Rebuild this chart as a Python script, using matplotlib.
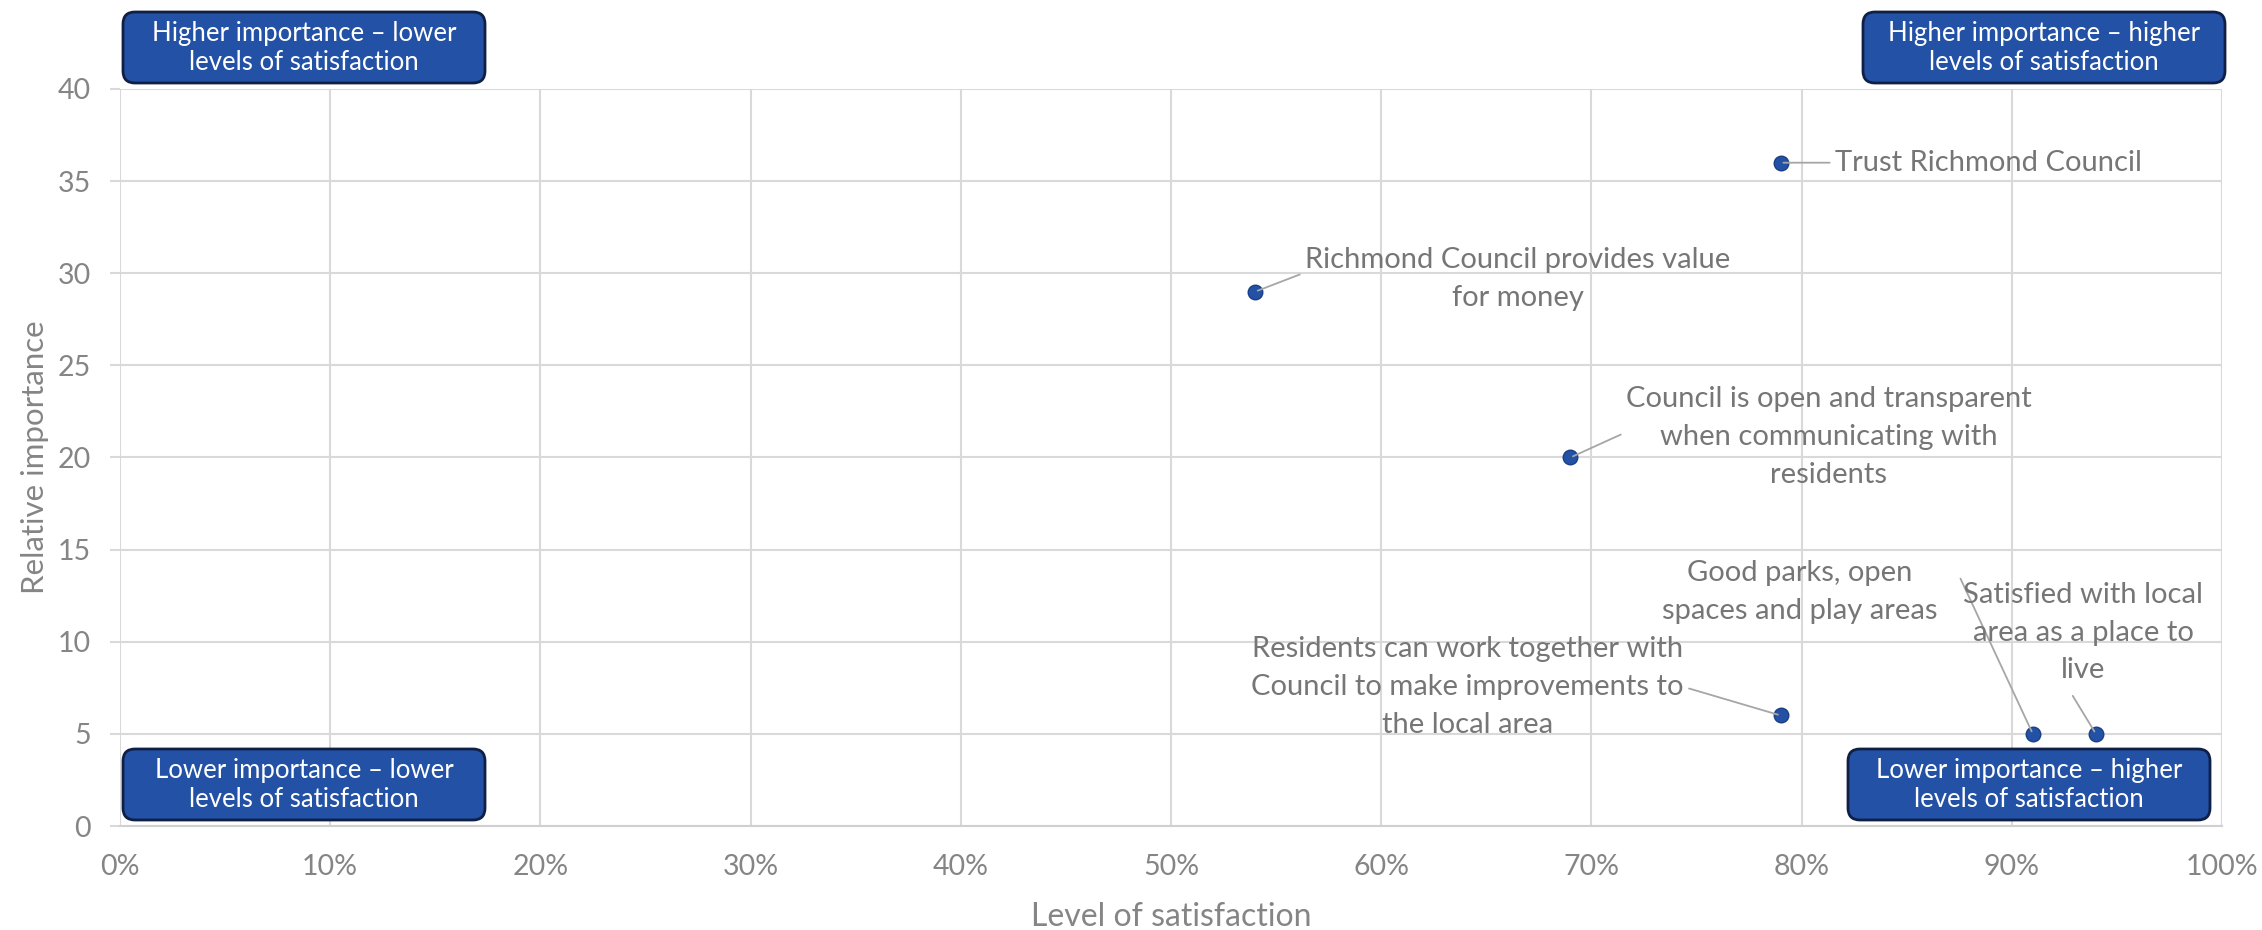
import matplotlib
matplotlib.use("Agg")
import matplotlib.pyplot as plt
from matplotlib.patches import FancyBboxPatch
from matplotlib.transforms import IdentityTransform
from matplotlib.ticker import FuncFormatter

# data
labels = [
    "Trust Richmond Council",
    "Richmond Council provides value\nfor money",
    "Council is open and transparent\nwhen communicating with\nresidents",
    "Residents can work together with\nCouncil to make improvements to\nthe local area",
    "Good parks, open\nspaces and play areas",
    "Satisfied with local\narea as a place to\nlive",
]
satisfaction = [0.79, 0.54, 0.69, 0.79, 0.91, 0.94]
importance = [36, 29, 20, 6, 5, 5]

# label placement (data coords) and leader anchor on the text box
label_xy = [(0.816, 36.0), (0.665, 29.7), (0.813, 21.1),
            (0.641, 7.55), (0.799, 12.7), (0.934, 10.5)]
label_ha = ["left", "center", "center", "center", "center", "center"]
relpos = [(0, 0.5), (0.0, 0.6), (0.0, 0.55), (1.0, 0.5), (1.08, 0.75), (0.45, -0.1)]

quadrants = [
    ("Higher importance \u2013 lower\nlevels of satisfaction", (123, 847)),
    ("Higher importance \u2013 higher\nlevels of satisfaction", (1863, 847)),
    ("Lower importance \u2013 lower\nlevels of satisfaction", (123, 110)),
    ("Lower importance \u2013 higher\nlevels of satisfaction", (1848, 110)),
]

plt.rcParams['font.family'] = ['Lato', 'DejaVu Sans']
GRID = "#d9d9d9"
TXT = "#858585"
LBL = "#767676"
BLUE = "#2251A5"

fig = plt.figure(figsize=(22.62, 9.30), dpi=100)
ax = fig.add_axes([120/2262, 1-826/930, (2222-120)/2262, (826-89)/930])

ax.scatter(satisfaction, importance, s=110, color=BLUE, edgecolor="#1b3f85",
           linewidth=1, zorder=5)

ax.set_xlim(0, 1)
ax.set_ylim(0, 40)
ax.set_xticks([i/10 for i in range(11)])
ax.set_yticks(range(0, 41, 5))
ax.xaxis.set_major_formatter(FuncFormatter(lambda v, p: f"{v*100:.0f}%"))
ax.grid(True, color=GRID, linewidth=1.5, zorder=0)
ax.set_axisbelow(True)
for s in ax.spines.values():
    s.set_visible(False)
ax.spines["bottom"].set_visible(True)
ax.spines["bottom"].set_color("#d0d0d0")
ax.spines["bottom"].set_linewidth(1.5)
ax.tick_params(axis="x", length=0, pad=20, labelsize=20.5, labelcolor=TXT)
ax.tick_params(axis="y", length=7, width=1.5, color=GRID, pad=14,
               labelsize=20.5, labelcolor=TXT)

ax.set_xlabel("Level of satisfaction", fontsize=23, color=TXT, labelpad=16)
ax.set_ylabel("Relative importance", fontsize=22.5, color=TXT, labelpad=6)

for i, lab in enumerate(labels):
    ax.annotate(lab, xy=(satisfaction[i], importance[i]), xytext=label_xy[i],
                ha=label_ha[i], va="center", multialignment="center",
                fontsize=21, color=LBL, linespacing=1.56, zorder=6,
                arrowprops=dict(arrowstyle="-", color="#a6a6a6", lw=1.3,
                                shrinkA=2, shrinkB=2, relpos=relpos[i]))

for txt, (x0, y0) in quadrants:
    box = FancyBboxPatch((x0, y0), 362, 71,
                         boxstyle="round,pad=0,rounding_size=12",
                         facecolor=BLUE, edgecolor="#0f1f45", linewidth=2,
                         transform=IdentityTransform(), zorder=10)
    fig.add_artist(box)
    fig.text((x0 + 181)/2262, (y0 + 35.5)/930, txt, ha="center", va="center",
             color="white", fontsize=18.5, linespacing=1.2, zorder=11)

fig.savefig("out.png", dpi=100)
